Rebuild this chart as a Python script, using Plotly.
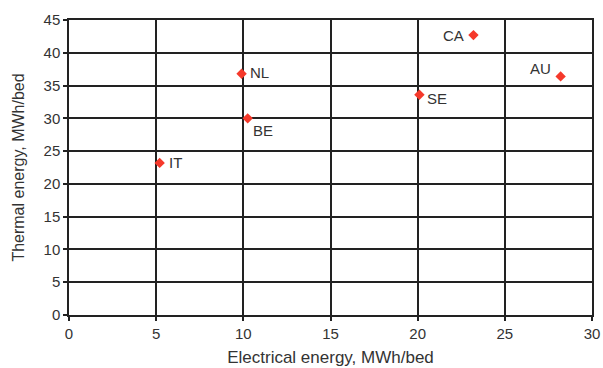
import plotly.graph_objects as go

countries = ["IT", "NL", "BE", "SE", "CA", "AU"]
electrical = [5.2, 9.9, 10.25, 20.1, 23.2, 28.2]
thermal = [23.2, 36.8, 30.0, 33.6, 42.7, 36.4]

# label placement (styling only): anchor, x/y pixel offsets
label_style = {
    "IT": ("left", 7, 0),
    "NL": ("left", 6, 1),
    "BE": ("left", 3, -12),
    "SE": ("left", 6, -4),
    "CA": ("right", -7, 0),
    "AU": ("right", -8, 8),
}

FONT = "Liberation Sans, Arial"
fig = go.Figure()
fig.add_trace(go.Scatter(
    x=electrical, y=thermal, mode="markers",
    marker=dict(symbol="diamond", size=8, color="#f5392b"),
    cliponaxis=False, showlegend=False,
))
for c, x, y in zip(countries, electrical, thermal):
    anchor, dx, dy = label_style[c]
    fig.add_annotation(x=x, y=y, text=c, showarrow=False, xanchor=anchor,
                       yanchor="middle", xshift=dx, yshift=dy,
                       font=dict(family=FONT, size=15, color="#333"))

axis_common = dict(
    showgrid=True, gridcolor="#222", gridwidth=1.5,
    showline=True, linecolor="#222", linewidth=1.5, mirror=True,
    ticks="outside", ticklen=4, tickcolor="#222", tickwidth=1.5,
    zeroline=False, automargin=False,
    tickfont=dict(family=FONT, size=15, color="#333"),
)
fig.update_xaxes(range=[0, 30], dtick=5, **axis_common,
                 title=dict(text="Electrical energy, MWh/bed", standoff=10,
                            font=dict(family=FONT, size=17, color="#333")))
fig.update_yaxes(range=[0, 45], dtick=5, **axis_common,
                 title=dict(text="Thermal energy, MWh/bed", standoff=15,
                            font=dict(family=FONT, size=16, color="#333")))
fig.update_layout(
    width=603, height=368,
    margin=dict(l=69, r=11, t=20, b=53),
    plot_bgcolor="white", paper_bgcolor="white",
)
fig.write_html("out.html")
